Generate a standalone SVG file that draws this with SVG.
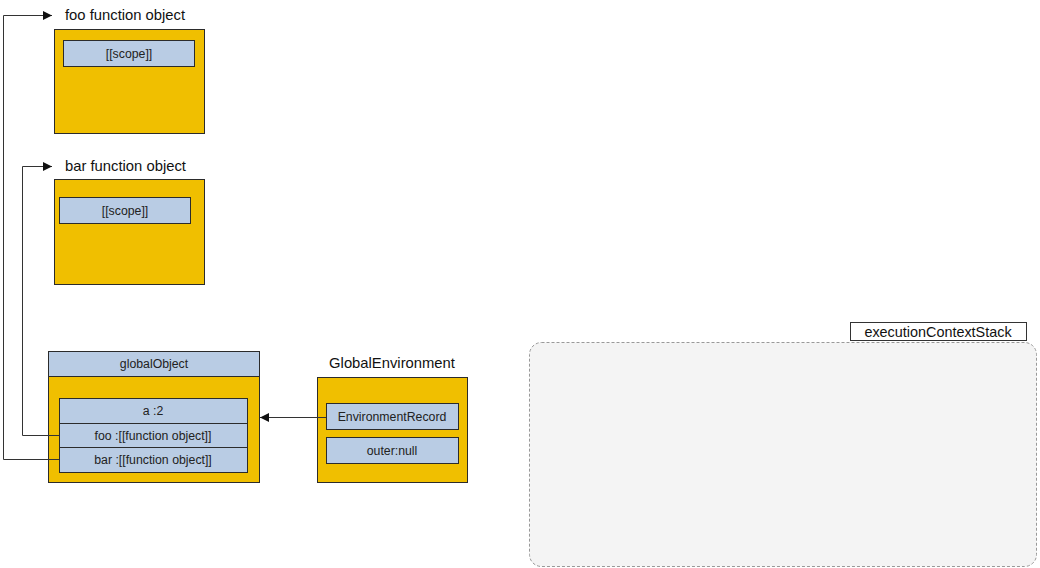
<svg xmlns="http://www.w3.org/2000/svg" width="1040" height="568" viewBox="0 0 1040 568">
<style>
.y{fill:#f0bf00;stroke:#2b2b2b;stroke-width:1}
.b{fill:#b9cce4;stroke:#2b2b2b;stroke-width:1}
.t{font-family:"Liberation Sans",Arial,sans-serif;font-size:12.3px;fill:#222;text-anchor:middle;dominant-baseline:central}
.l{font-family:"Liberation Sans",Arial,sans-serif;font-size:14.8px;fill:#111;dominant-baseline:central}
.c{fill:none;stroke:#333;stroke-width:1}
</style>
<defs>
<marker id="ah" viewBox="0 0 10 10" refX="10" refY="5" markerWidth="13" markerHeight="9" markerUnits="userSpaceOnUse" orient="auto">
<path d="M0,0L10,5L0,10z" fill="#111"/>
</marker>
</defs>
<rect x="529.5" y="342.5" width="507" height="224" rx="12" fill="#f4f4f4" stroke="#999" stroke-dasharray="3,2"/>
<g id="execStackLabel">
<rect x="850.5" y="322.5" width="176" height="18" fill="#fff" stroke="#333"/>
<text class="l" x="938" y="331.5" text-anchor="middle" style="font-size:14.4px">executionContextStack</text>
</g>
<g id="foo">
<text class="l" x="65" y="15">foo function object</text>
<rect class="y" x="54.5" y="29.5" width="150" height="104"/>
<rect class="b" x="63.5" y="40.5" width="131" height="26"/>
<text class="t" x="129" y="53.5">[[scope]]</text>
</g>
<g id="bar">
<text class="l" x="65" y="166">bar function object</text>
<rect class="y" x="54.5" y="179.5" width="150" height="105"/>
<rect class="b" x="59.5" y="197.5" width="131" height="26"/>
<text class="t" x="125" y="210.5">[[scope]]</text>
</g>
<g id="globalObject">
<rect class="y" x="48.5" y="351.5" width="211" height="131"/>
<rect class="b" x="48.5" y="351.5" width="211" height="25"/>
<text class="t" x="154" y="364">globalObject</text>
<rect class="b" x="59.5" y="398.5" width="188" height="25"/>
<rect class="b" x="59.5" y="423.5" width="188" height="24"/>
<rect class="b" x="59.5" y="447.5" width="188" height="25"/>
<text class="t" x="153" y="411">a :2</text>
<text class="t" x="153" y="435.5">foo :[[function object]]</text>
<text class="t" x="153" y="460">bar :[[function object]]</text>
</g>
<g id="GlobalEnvironment">
<text class="l" x="392" y="363" text-anchor="middle">GlobalEnvironment</text>
<rect class="y" x="317.5" y="377.5" width="150" height="105"/>
<rect class="b" x="326.5" y="403.5" width="132" height="26"/>
<text class="t" x="392" y="416.5">EnvironmentRecord</text>
<rect class="b" x="326.5" y="437.5" width="132" height="26"/>
<text class="t" x="392" y="450.5">outer:null</text>
</g>
<g id="connectors">
<polyline class="c" points="59,459.5 3.5,459.5 3.5,15.5 52,15.5" marker-end="url(#ah)"/>
<polyline class="c" points="59,435.5 22.5,435.5 22.5,166.5 52,166.5" marker-end="url(#ah)"/>
<line class="c" x1="326" y1="417.5" x2="260" y2="417.5" marker-end="url(#ah)"/>
</g>
</svg>
